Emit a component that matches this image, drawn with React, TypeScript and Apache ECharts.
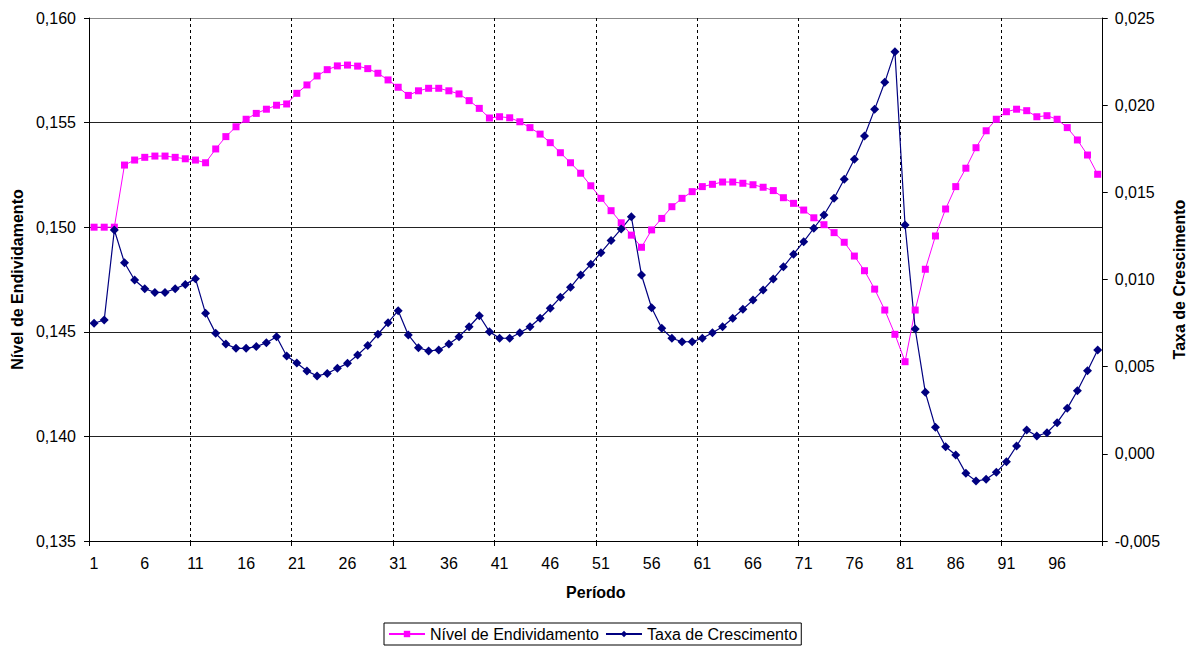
import React, { useEffect, useRef } from "react";
import * as echarts from "echarts";

const periods: string[] = Array.from({ length: 100 }, (_, i) => String(i + 1));

const nivelEndividamento: number[] = [
  0.1500, 0.1500, 0.1500, 0.15297, 0.15321, 0.15334, 0.1534, 0.1534, 0.15334, 0.15327,
  0.15321, 0.15308, 0.15374, 0.15433, 0.1548, 0.15516, 0.15544, 0.15564, 0.15583, 0.15589,
  0.1564, 0.1568, 0.15723, 0.15753, 0.15771, 0.15775, 0.1577, 0.15758, 0.15736, 0.15704,
  0.15669, 0.1563, 0.15652, 0.15664, 0.15664, 0.15652, 0.15637, 0.15605, 0.15568, 0.15522,
  0.15528, 0.15523, 0.15504, 0.15476, 0.15445, 0.15404, 0.15356, 0.15308, 0.15258, 0.15198,
  0.15138, 0.15079, 0.15021, 0.14962, 0.14904, 0.14987, 0.15042, 0.15098, 0.15138, 0.1517,
  0.15194, 0.15205, 0.15216, 0.15216, 0.1521, 0.15203, 0.15191, 0.15175, 0.15141, 0.15114,
  0.15082, 0.15045, 0.15012, 0.14974, 0.14928, 0.14862, 0.14792, 0.14704, 0.14604, 0.14488,
  0.14357, 0.14604, 0.14799, 0.14958, 0.15087, 0.15194, 0.15282, 0.1538, 0.15461, 0.15516,
  0.15552, 0.15564, 0.15557, 0.15528, 0.15533, 0.15516, 0.15476, 0.15417, 0.15345, 0.15253,
];

const taxaCrescimento: number[] = [
  0.00749, 0.00768, 0.01284, 0.01096, 0.00997, 0.00947, 0.00926, 0.00926, 0.00947, 0.00972,
  0.01005, 0.00806, 0.00691, 0.0063, 0.00605, 0.00605, 0.00615, 0.00637, 0.00672, 0.00561,
  0.00521, 0.00475, 0.00447, 0.00461, 0.00491, 0.00519, 0.00567, 0.00621, 0.00686, 0.00752,
  0.00821, 0.00682, 0.00609, 0.0059, 0.00596, 0.0063, 0.00672, 0.00729, 0.00792, 0.00701,
  0.00663, 0.00663, 0.00695, 0.00729, 0.00778, 0.00835, 0.00898, 0.00955, 0.01026, 0.01087,
  0.01154, 0.01223, 0.0129, 0.0136, 0.01026, 0.00838, 0.0072, 0.00663, 0.00643, 0.00643,
  0.00663, 0.00695, 0.00729, 0.00778, 0.00829, 0.00882, 0.0094, 0.01003, 0.01073, 0.01145,
  0.01217, 0.01294, 0.0137, 0.01466, 0.01575, 0.0169, 0.01823, 0.01976, 0.02131, 0.02307,
  0.01313, 0.00716, 0.00353, 0.00152, 0.00041, -0.00007, -0.00112, -0.00156, -0.00146, -0.00106,
  -0.00045, 0.00045, 0.00137, 0.00102, 0.00121, 0.00179, 0.00261, 0.00362, 0.00477, 0.00596,
];

const seriesNames = ["Nível de Endividamento", "Taxa de Crescimento"];

export default function App() {
  const ref = useRef<HTMLDivElement>(null);
  useEffect(() => {
    if (!ref.current) return;
    const chart = echarts.init(ref.current, null, { renderer: "svg" });
    const fmt = (v: number) => v.toFixed(3).replace(".", ",");
    const font = "'Liberation Sans', Arial, sans-serif";
    chart.setOption({
      animation: false,
      backgroundColor: "#ffffff",
      textStyle: { fontFamily: font, color: "#000" },
      grid: { left: 89, right: 87, top: 18, bottom: 107, containLabel: false },
      legend: {
        data: seriesNames,
        left: 384,
        top: 623,
        orient: "horizontal",
        borderColor: "#000",
        borderWidth: 1,
        borderRadius: 0,
        padding: [3, 4],
        itemGap: 6,
        itemWidth: 36,
        itemHeight: 8,
        textStyle: { fontSize: 16, color: "#000", fontFamily: font },
      },
      xAxis: {
        type: "category",
        data: periods,
        boundaryGap: true,
        name: "Período",
        nameLocation: "middle",
        nameGap: 43,
        nameTextStyle: { fontWeight: "bold", fontSize: 16, color: "#000", fontFamily: font },
        axisLine: { show: true, onZero: false, lineStyle: { color: "#000", width: 1 } },
        axisTick: { show: true, interval: 9, length: 5, lineStyle: { color: "#000" } },
        axisLabel: { interval: 4, fontSize: 16, color: "#000", margin: 14, fontFamily: font },
        splitLine: { show: true, interval: 9, lineStyle: { color: "#000", width: 1, type: [3, 3] } },
      },
      yAxis: [
        {
          type: "value",
          min: 0.135,
          max: 0.16,
          interval: 0.005,
          position: "left",
          name: "Nível de Endividamento",
          nameLocation: "middle",
          nameRotate: 90,
          nameGap: 63,
          nameTextStyle: { fontWeight: "bold", fontSize: 16, color: "#000", fontFamily: font },
          axisLine: { show: true, lineStyle: { color: "#000", width: 1 } },
          axisTick: { show: true, length: 5, lineStyle: { color: "#000" } },
          axisLabel: { formatter: fmt, fontSize: 16, color: "#000", margin: 13, fontFamily: font },
          splitLine: {
            show: true,
            lineStyle: { color: ["#000", "#222", "#222", "#222", "#222", "#888"], width: 1 },
          },
        },
        {
          type: "value",
          min: -0.005,
          max: 0.025,
          interval: 0.005,
          position: "right",
          name: "Taxa de Crescimento",
          nameLocation: "middle",
          nameRotate: 90,
          nameGap: 66,
          nameTextStyle: { fontWeight: "bold", fontSize: 16, color: "#000", fontFamily: font },
          axisLine: { show: true, lineStyle: { color: "#000", width: 1 } },
          axisTick: { show: true, length: 5, lineStyle: { color: "#000" } },
          axisLabel: { formatter: fmt, fontSize: 16, color: "#000", margin: 12, fontFamily: font },
          splitLine: { show: false },
        },
      ],
      series: [
        {
          name: seriesNames[0],
          type: "line",
          yAxisIndex: 0,
          data: nivelEndividamento,
          symbol: "rect",
          symbolSize: 7,
          showAllSymbol: true,
          lineStyle: { color: "#FF00FF", width: 1 },
          itemStyle: { color: "#FF00FF" },
        },
        {
          name: seriesNames[1],
          type: "line",
          yAxisIndex: 1,
          data: taxaCrescimento,
          symbol: "diamond",
          symbolSize: 9,
          showAllSymbol: true,
          lineStyle: { color: "#000080", width: 1.2 },
          itemStyle: { color: "#000080" },
        },
      ],
    });
    return () => chart.dispose();
  }, []);
  return (
    <div
      ref={ref}
      style={{ position: "fixed", left: 0, top: 0, width: 1195, height: 648 }}
    />
  );
}
